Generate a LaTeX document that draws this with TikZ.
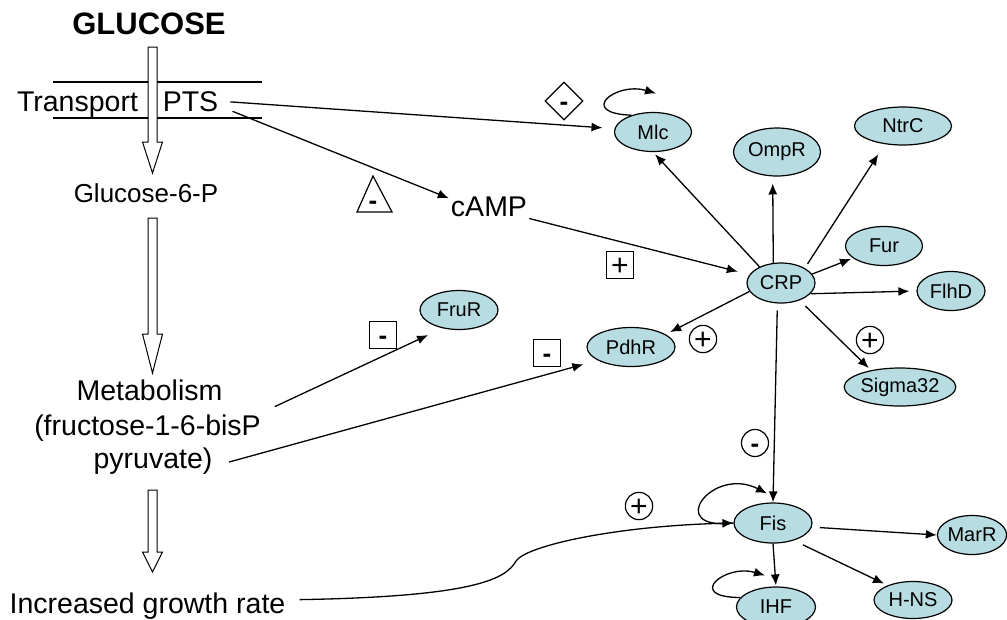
\documentclass[tikz,border=0pt]{standalone}
\usepackage{fontspec}
\setmainfont{Liberation Sans}
\usetikzlibrary{arrows.meta,shapes.geometric}
\definecolor{regfill}{RGB}{183,221,226}

\begin{document}
\begin{tikzpicture}[
  x=1pt, y=-1pt,
  >={Latex[length=11pt,width=9pt]},
  every node/.style={inner sep=2pt},
  txt/.style={anchor=base, font=\fontsize{28.5}{34}\selectfont},
  gene/.style={draw, ellipse, fill=regfill, line width=1.2pt, inner sep=0pt, font=\fontsize{20}{23}\selectfont},
  act/.style={->, line width=1.3pt},
  signbox/.style={draw, line width=1.2pt, minimum size=27pt, inner sep=0pt},
  signcirc/.style={signbox, circle, minimum size=27pt},
  signplus/.style={font=\fontsize{30}{30}\selectfont, text height=21pt, text depth=0pt},
  signminus/.style={font=\fontsize{26}{26}\selectfont\bfseries, text height=18pt, text depth=0pt},
  hollow/.style={draw, fill=white, line width=1pt},
  ]
  \useasboundingbox (0,0) rectangle (1007,619);

  \node[txt, font=\fontsize{31}{36}\selectfont\bfseries] (glucose) at (149,34) {GLUCOSE};
  \draw[line width=2.5pt] (53,82) -- (262,82);
  \draw[line width=2.5pt] (53,118) -- (262,118);
  \draw[hollow] (148,47) -- (157,47) -- (157,142) -- (162.5,142) -- (152.5,173) -- (142.5,142) -- (148,142) -- cycle;
  \draw[hollow] (148,218) -- (157,218) -- (157,334) -- (162.5,334) -- (152.5,373) -- (142.5,334) -- (148,334) -- cycle;
  \draw[hollow] (148,490) -- (157,490) -- (157,552) -- (162.5,552) -- (152.5,572) -- (142.5,552) -- (148,552) -- cycle;

  \node[txt] (transport) at (77.5,111) {Transport};
  \node[txt] (pts) at (190.5,111) {PTS};
  \node[txt, font=\fontsize{26}{30}\selectfont] (g6p) at (146,202) {Glucose-6-P};
  \node[txt] (metab) at (149.5,400) {Metabolism};
  \node[txt] (fruc) at (147.5,435) {(fructose-1-6-bisP};
  \node[txt] (pyru) at (153,468) {pyruvate)};
  \node[txt] (growth) at (147.5,613) {Increased growth rate};
  \node[txt] (camp) at (489,216) {cAMP};

  \node[gene, minimum width=77pt, minimum height=39pt] (mlc) at (653,132) {Mlc};
  \node[gene, minimum width=87pt, minimum height=48pt] (ompr) at (777,152) {OmpR};
  \node[gene, minimum width=97pt, minimum height=38pt] (ntrc) at (903,126) {NtrC};
  \node[gene, minimum width=68pt, minimum height=40pt] (crp) at (781,283) {CRP};
  \node[gene, minimum width=77pt, minimum height=39pt] (fur) at (884,246) {Fur};
  \node[gene, minimum width=68pt, minimum height=39pt] (flhd) at (951,291) {FlhD};
  \node[gene, minimum width=88pt, minimum height=39pt] (pdhr) at (631,347) {PdhR};
  \node[gene, minimum width=106pt, minimum height=38pt] (sigma) at (900,387) {Sigma32};
  \node[gene, minimum width=78pt, minimum height=39pt] (frur) at (459,310) {FruR};
  \node[gene, minimum width=78pt, minimum height=40pt] (fis) at (773,523) {Fis};
  \node[gene, minimum width=68pt, minimum height=39pt] (marr) at (972,535) {MarR};
  \node[gene, minimum width=78pt, minimum height=37pt] (hns) at (913,600) {H-NS};
  \node[gene, minimum width=79pt, minimum height=40pt] (ihf) at (776,607) {IHF};

  \node[signbox, signminus, diamond, minimum size=38pt] (smmlc) at (564,101) {-};
  \draw[line width=1.2pt] (373,176) -- (392,212) -- (357,212) -- cycle;
  \node[signminus, inner sep=0pt] (smcamp) at (373,200) {-};
  \node[signbox, signplus] (spcrp) at (620,265) {+};
  \node[signbox, signminus] (smfru) at (383,335) {-};
  \node[signbox, signminus] (smpdh) at (547,353) {-};
  \node[signcirc, signplus] (sppdh) at (703,339) {+};
  \node[signcirc, signplus] (spsig) at (870,340) {+};
  \node[signcirc, signminus] (smfis) at (755,443) {-};
  \node[signcirc, signplus] (spfis) at (639,506) {+};

  \draw[act, shorten <=10pt, shorten >=12pt] (pts.east) -- (mlc.175);
  \draw[act, shorten <=13pt] (pts.-10) -- ([yshift=-4pt]camp.north west);
  \draw[act, shorten >=12pt] (camp.south east) -- (crp.165);
  \draw[act, shorten >=3pt] (crp.143) -- (mlc.south);
  \draw[act, shorten >=7pt] (crp.111) -- (ompr.-100);
  \draw[act, shorten <=5pt, shorten >=12pt] (crp.32) -- (ntrc.-135);
  \draw[act, shorten >=2pt] (crp.16) -- (fur);
  \draw[act, shorten >=7pt] (crp.-20) -- (flhd.west);
  \draw[act, shorten <=8pt, shorten >=3pt] (crp.-43) -- (sigma.150);
  \draw[act, shorten >=5pt] (crp.195) -- (pdhr.20);
  \draw[act, shorten <=7pt] (crp.-100) -- (fis.north);
  \draw[act, shorten <=13pt, shorten >=16pt] (fruc.north east) -- (frur.-132);
  \draw[act, shorten <=15pt, shorten >=15pt] (pyru.-5) -- (pdhr.-158);
  \draw[act, shorten <=8pt] (fis.-6) -- (marr.west);
  \draw[act, shorten <=10pt, shorten >=4pt] (fis.-40) -- (hns.150);
  \draw[act, shorten >=1pt] (fis.south) -- (ihf.north);

  \draw[act] (mlc.142) .. controls +(-55,-2) and +(-40,-12) .. ([shift={(3,-18.5)}]mlc.north);
  \draw[act] (fis.west) .. controls +(-70,8) and +(-55,-28) .. ([shift={(-6,-9)}]fis.north);
  \draw[act] (ihf.165) .. controls +(-56,0) and +(-40,-12) .. ([shift={(-11,-11)}]ihf.north);
  \draw[act] ([xshift=12pt,yshift=6pt]growth.east) .. controls +(175,-3) and +(-10,18) .. (516,561) .. controls +(10,-15) and +(-120,3) .. (fis.west);

\end{tikzpicture}
\end{document}
